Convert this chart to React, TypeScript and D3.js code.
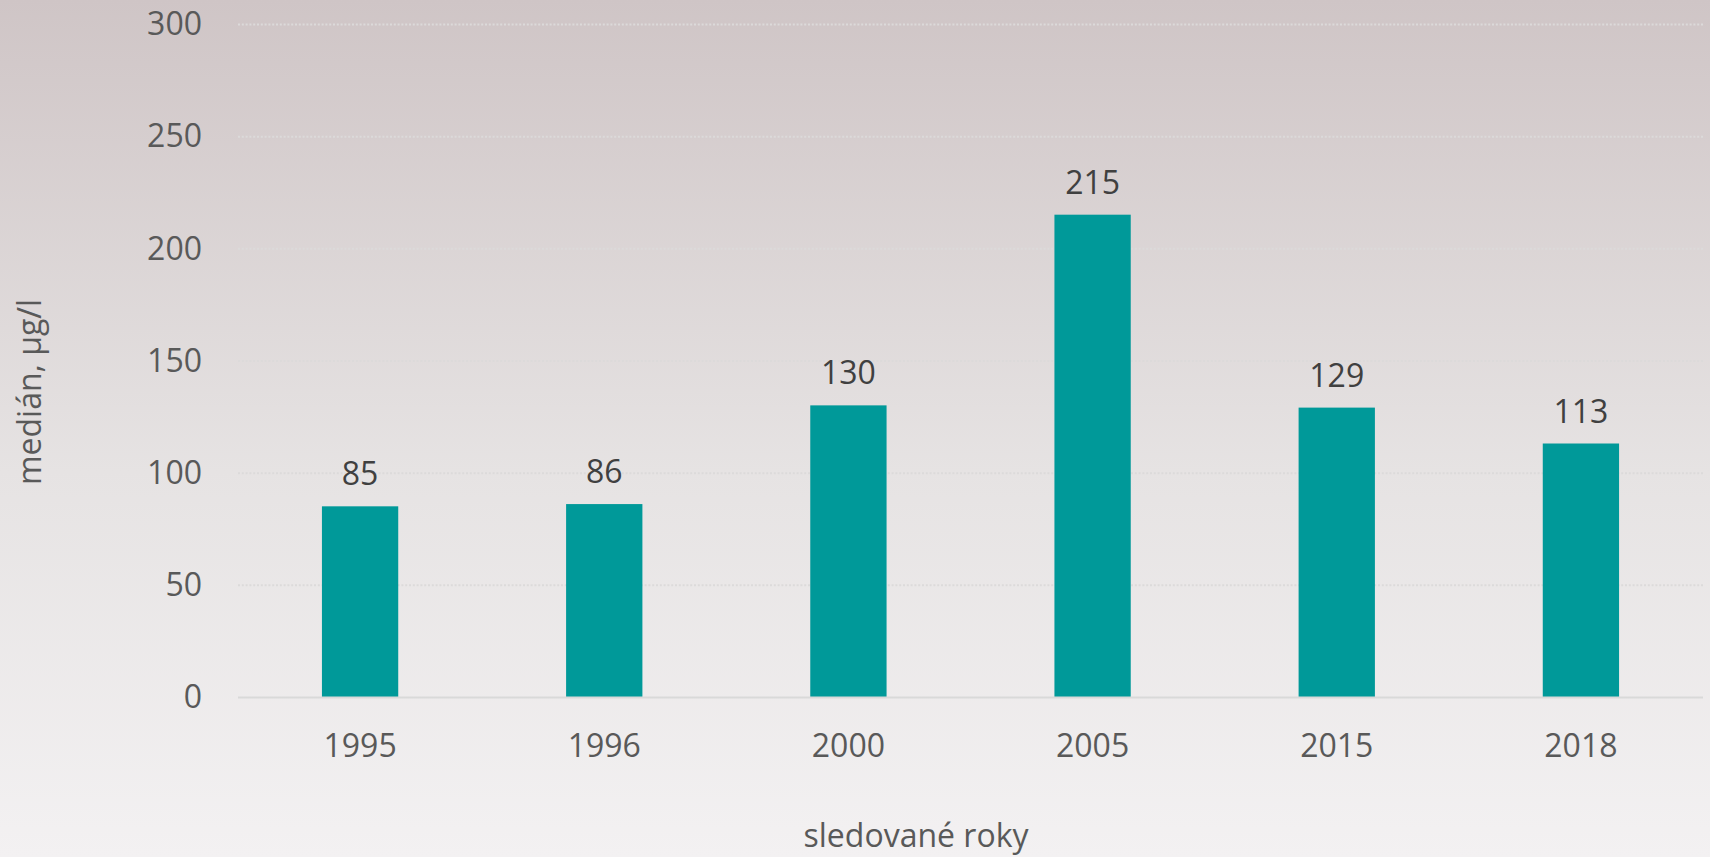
import React, { useEffect, useRef } from "react";
import * as d3 from "d3";

const years = ["1995", "1996", "2000", "2005", "2015", "2018"];
const medians = [85, 86, 130, 215, 129, 113];
const yTicks = [0, 50, 100, 150, 200, 250, 300];
const yTitle = "medián, µg/l";
const xTitle = "sledované roky";

const W = 1710;
const H = 857;

export default function App() {
  const ref = useRef<SVGSVGElement | null>(null);

  useEffect(() => {
    document.body.style.margin = "0";
    const svg = d3.select(ref.current);
    svg.selectAll("*").remove();

    const left = 238, right = 1703, top = 24, bottom = 697;
    const font = "'Open Sans', sans-serif";

    const defs = svg.append("defs");
    const grad = defs.append("linearGradient").attr("id", "bg").attr("x1", 0).attr("y1", 0).attr("x2", 0).attr("y2", 1);
    grad.append("stop").attr("offset", "0%").attr("stop-color", "#cfc5c6");
    grad.append("stop").attr("offset", "55%").attr("stop-color", "#e6e3e3");
    grad.append("stop").attr("offset", "100%").attr("stop-color", "#f3f1f2");
    svg.append("rect").attr("width", W).attr("height", H).attr("fill", "url(#bg)");

    const x = d3.scaleBand<string>().domain(years).range([left, right]).paddingInner(2.2 / 3.2).paddingOuter(1.1 / 3.2);
    const y = d3.scaleLinear().domain([0, 300]).range([bottom, top]);

    // gridlines
    svg.append("g").selectAll("line").data(yTicks.filter((t) => t > 0)).join("line")
      .attr("x1", left).attr("x2", right)
      .attr("y1", (d) => y(d) + 0.5).attr("y2", (d) => y(d) + 0.5)
      .attr("stroke", "#dcdada").attr("stroke-width", 2).attr("stroke-dasharray", "2,1.8");

    // y tick labels
    svg.append("g").selectAll("text").data(yTicks).join("text")
      .attr("x", 202).attr("y", (d) => y(d)).attr("dy", "0.35em")
      .attr("text-anchor", "end").attr("font-family", font).attr("font-size", 32)
      .attr("fill", "#595959").text((d) => String(d));

    // bars
    svg.append("g").selectAll("rect").data(medians).join("rect")
      .attr("x", (_, i) => x(years[i])!).attr("width", x.bandwidth())
      .attr("y", (d) => y(d)).attr("height", (d) => bottom - y(d))
      .attr("fill", "#009999");

    // axis line
    svg.append("line").attr("x1", left).attr("x2", right).attr("y1", bottom + 0.5).attr("y2", bottom + 0.5)
      .attr("stroke", "#d9d9d9").attr("stroke-width", 2);

    // data labels
    svg.append("g").selectAll("text").data(medians).join("text")
      .attr("x", (_, i) => x(years[i])! + x.bandwidth() / 2).attr("y", (d) => y(d) - 21)
      .attr("text-anchor", "middle").attr("font-family", font).attr("font-size", 32)
      .attr("fill", "#404040").text((d) => String(d));

    // x labels
    svg.append("g").selectAll("text").data(years).join("text")
      .attr("x", (d) => x(d)! + x.bandwidth() / 2).attr("y", 757)
      .attr("text-anchor", "middle").attr("font-family", font).attr("font-size", 32)
      .attr("fill", "#595959").text((d) => d);

    // axis titles
    svg.append("text").attr("transform", `translate(41,392) rotate(-90)`)
      .attr("text-anchor", "middle").attr("font-family", font).attr("font-size", 32)
      .attr("fill", "#595959").text(yTitle);
    svg.append("text").attr("x", 916).attr("y", 847)
      .attr("text-anchor", "middle").attr("font-family", font).attr("font-size", 32)
      .attr("fill", "#595959").text(xTitle);
  }, []);

  return <svg ref={ref} width={W} height={H} style={{ display: "block" }} />;
}
